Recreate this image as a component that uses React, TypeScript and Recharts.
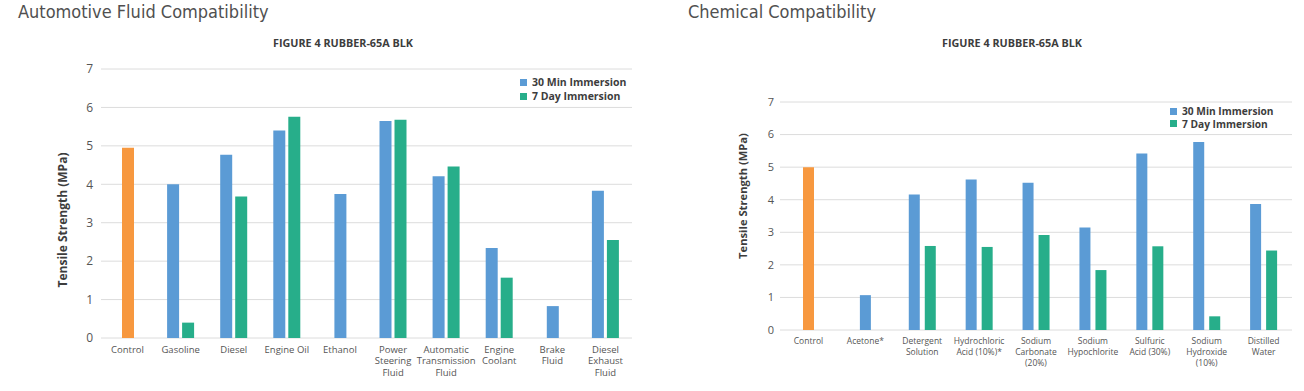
import React from 'react';
import { BarChart, Bar, XAxis, YAxis, CartesianGrid, Legend, Label, Cell } from 'recharts';

// automotive fluids (left panel)
const autoCategories = [
  'Control',
  'Gasoline',
  'Diesel',
  'Engine Oil',
  'Ethanol',
  'Power\nSteering\nFluid',
  'Automatic\nTransmission\nFluid',
  'Engine\nCoolant',
  'Brake\nFluid',
  'Diesel\nExhaust\nFluid',
];
const auto30 = [4.95, 4.0, 4.77, 5.4, 3.75, 5.65, 4.21, 2.34, 0.83, 3.83];
const auto7 = [null, 0.4, 3.68, 5.76, null, 5.68, 4.46, 1.57, null, 2.55];

// chemicals (right panel)
const chemCategories = [
  'Control',
  'Acetone*',
  'Detergent\nSolution',
  'Hydrochloric\nAcid (10%)*',
  'Sodium\nCarbonate\n(20%)',
  'Sodium\nHypochlorite',
  'Sulfuric\nAcid (30%)',
  'Sodium\nHydroxide\n(10%)',
  'Distilled\nWater',
];
const chem30 = [5.0, 1.07, 4.16, 4.62, 4.52, 3.15, 5.42, 5.77, 3.87];
const chem7 = [null, null, 2.58, 2.55, 2.92, 1.84, 2.57, 0.42, 2.44];

const yTicks = [0, 1, 2, 3, 4, 5, 6, 7];
const seriesNames = ['30 Min Immersion', '7 Day Immersion'];
const subtitle = 'FIGURE 4 RUBBER-65A BLK';
const yTitle = 'Tensile Strength (MPa)';

const COLORS = {
  blue: '#5b9bd5',
  green: '#27ae8a',
  orange: '#f7983f',
  grid: '#dcdcdc',
  tick: '#555555',
  head: '#3d3d3d',
  title: '#505050',
};

const SANS = "'Open Sans', 'Noto Sans', sans-serif";
const NARROW = "'Liberation Sans Narrow', 'DejaVu Sans Condensed', 'Roboto', sans-serif";

// a category with no 7-day value gets its single bar centred on its own axis
function buildRows(cats: string[], v30: number[], v7: (number | null)[]) {
  return cats.map((name, i) => {
    const paired = v7[i] != null;
    return {
      name,
      m30: paired ? v30[i] : null,
      d7: paired ? v7[i] : null,
      single: paired ? null : v30[i],
    };
  });
}

const autoRows = buildRows(autoCategories, auto30, auto7);
const chemRows = buildRows(chemCategories, chem30, chem7);

function MultiTick(props: any) {
  const { x, y, payload, fontSize, lineHeight } = props;
  const lines = String(payload.value).split('\n');
  return (
    <text x={x} y={y} textAnchor="middle" fill={COLORS.tick} fontSize={fontSize} fontFamily={SANS}>
      {lines.map((l, i) => (
        <tspan key={i} x={x} dy={i === 0 ? fontSize * 0.71 : lineHeight}>
          {l}
        </tspan>
      ))}
    </text>
  );
}

function LegendBox(props: any) {
  const { payload, rowHeight, fontSize } = props;
  const items = (payload || []).filter((e: any) => seriesNames.includes(e.value));
  return (
    <div style={{ fontFamily: SANS, fontSize, fontWeight: 700, color: COLORS.head }}>
      {items.map((e: any) => (
        <div key={e.value} style={{ display: 'flex', alignItems: 'center', height: rowHeight, whiteSpace: 'nowrap' }}>
          <span style={{ width: 7, height: 7, background: e.color, marginRight: 5, display: 'inline-block' }} />
          <span>{e.value}</span>
        </div>
      ))}
    </div>
  );
}

function rotatedTitle(cx: number, cy: number, size: number) {
  return () => (
    <text
      x={cx}
      y={cy}
      transform={`rotate(-90 ${cx} ${cy})`}
      textAnchor="middle"
      dominantBaseline="central"
      fontFamily={SANS}
      fontSize={size}
      fontWeight={700}
      fill={COLORS.head}
    >
      {yTitle}
    </text>
  );
}

interface PanelProps {
  rows: any[];
  width: number;
  margin: { top: number; right: number; bottom: number; left: number };
  barSize: number;
  barGap: number;
  tickMargin: number;
  xFont: number;
  xLine: number;
  xHeight: number;
  yFont: number;
  yTitlePos: [number, number, number];
  legendPos: { left: number; top: number; row: number; font: number };
}

function Panel(p: PanelProps) {
  return (
    <BarChart width={p.width} height={391} data={p.rows} margin={p.margin} barGap={p.barGap}>
      <CartesianGrid vertical={false} stroke={COLORS.grid} />
      <XAxis
        xAxisId="pair"
        dataKey="name"
        axisLine={false}
        tickLine={false}
        interval={0}
        height={p.xHeight}
        tick={(t: any) => <MultiTick {...t} fontSize={p.xFont} lineHeight={p.xLine} />}
      />
      <XAxis xAxisId="single" dataKey="name" hide />
      <YAxis
        domain={[0, 7]}
        ticks={yTicks}
        width={60}
        axisLine={false}
        tickLine={false}
        tickSize={0}
        tickMargin={p.tickMargin}
        tick={{ fill: COLORS.tick, fontSize: p.yFont, fontFamily: SANS }}
      >
        <Label content={rotatedTitle(p.yTitlePos[0], p.yTitlePos[1], p.yTitlePos[2])} />
      </YAxis>
      <Legend
        layout="vertical"
        align="center"
        verticalAlign="middle"
        wrapperStyle={{ left: p.legendPos.left, top: p.legendPos.top, right: 'auto', bottom: 'auto', width: 'auto' }}
        content={(lp: any) => <LegendBox {...lp} rowHeight={p.legendPos.row} fontSize={p.legendPos.font} />}
      />
      <Bar xAxisId="pair" dataKey="m30" name={seriesNames[0]} fill={COLORS.blue} barSize={p.barSize} isAnimationActive={false} />
      <Bar xAxisId="pair" dataKey="d7" name={seriesNames[1]} fill={COLORS.green} barSize={p.barSize} isAnimationActive={false} />
      <Bar xAxisId="single" dataKey="single" legendType="none" barSize={p.barSize} isAnimationActive={false}>
        {p.rows.map((r) => (
          <Cell key={r.name} fill={r.name === 'Control' ? COLORS.orange : COLORS.blue} />
        ))}
      </Bar>
    </BarChart>
  );
}

const headStyle: React.CSSProperties = {
  position: 'absolute',
  fontFamily: NARROW,
  fontSize: 18,
  color: COLORS.title,
  whiteSpace: 'nowrap',
  lineHeight: '20px',
};

const subStyle: React.CSSProperties = {
  position: 'absolute',
  fontFamily: SANS,
  fontSize: 10.8,
  fontWeight: 700,
  color: COLORS.head,
  whiteSpace: 'nowrap',
  transform: 'translateX(-50%)',
  lineHeight: '14px',
};

export default function App() {
  return (
    <div style={{ position: 'absolute', left: 0, top: 0, width: 1304, height: 391, background: '#fff', overflow: 'hidden' }}>
      <div style={{ ...headStyle, left: 18, top: 2 }}>Automotive Fluid Compatibility</div>
      <div style={{ ...subStyle, left: 343, top: 36 }}>{subtitle}</div>
      <div style={{ ...headStyle, left: 688, top: 2 }}>Chemical Compatibility</div>
      <div style={{ ...subStyle, left: 1012, top: 36 }}>{subtitle}</div>

      <div style={{ position: 'absolute', left: 0, top: 0 }}>
        <Panel
          rows={autoRows}
          width={660}
          margin={{ top: 69, right: 28, bottom: 13, left: 41 }}
          barSize={12}
          barGap={3}
          tickMargin={8}
          xFont={9.5}
          xLine={11.5}
          xHeight={40}
          yFont={12}
          yTitlePos={[62, 220, 12]}
          legendPos={{ left: 520, top: 75, row: 14, font: 10.5 }}
        />
      </div>
      <div style={{ position: 'absolute', left: 660, top: 0 }}>
        <Panel
          rows={chemRows}
          width={644}
          margin={{ top: 102, right: 12, bottom: 16, left: 60 }}
          barSize={11}
          barGap={5}
          tickMargin={6}
          xFont={8.5}
          xLine={11}
          xHeight={45}
          yFont={11}
          yTitlePos={[82, 196, 11.2]}
          legendPos={{ left: 510, top: 105, row: 12.6, font: 10.2 }}
        />
      </div>
    </div>
  );
}
